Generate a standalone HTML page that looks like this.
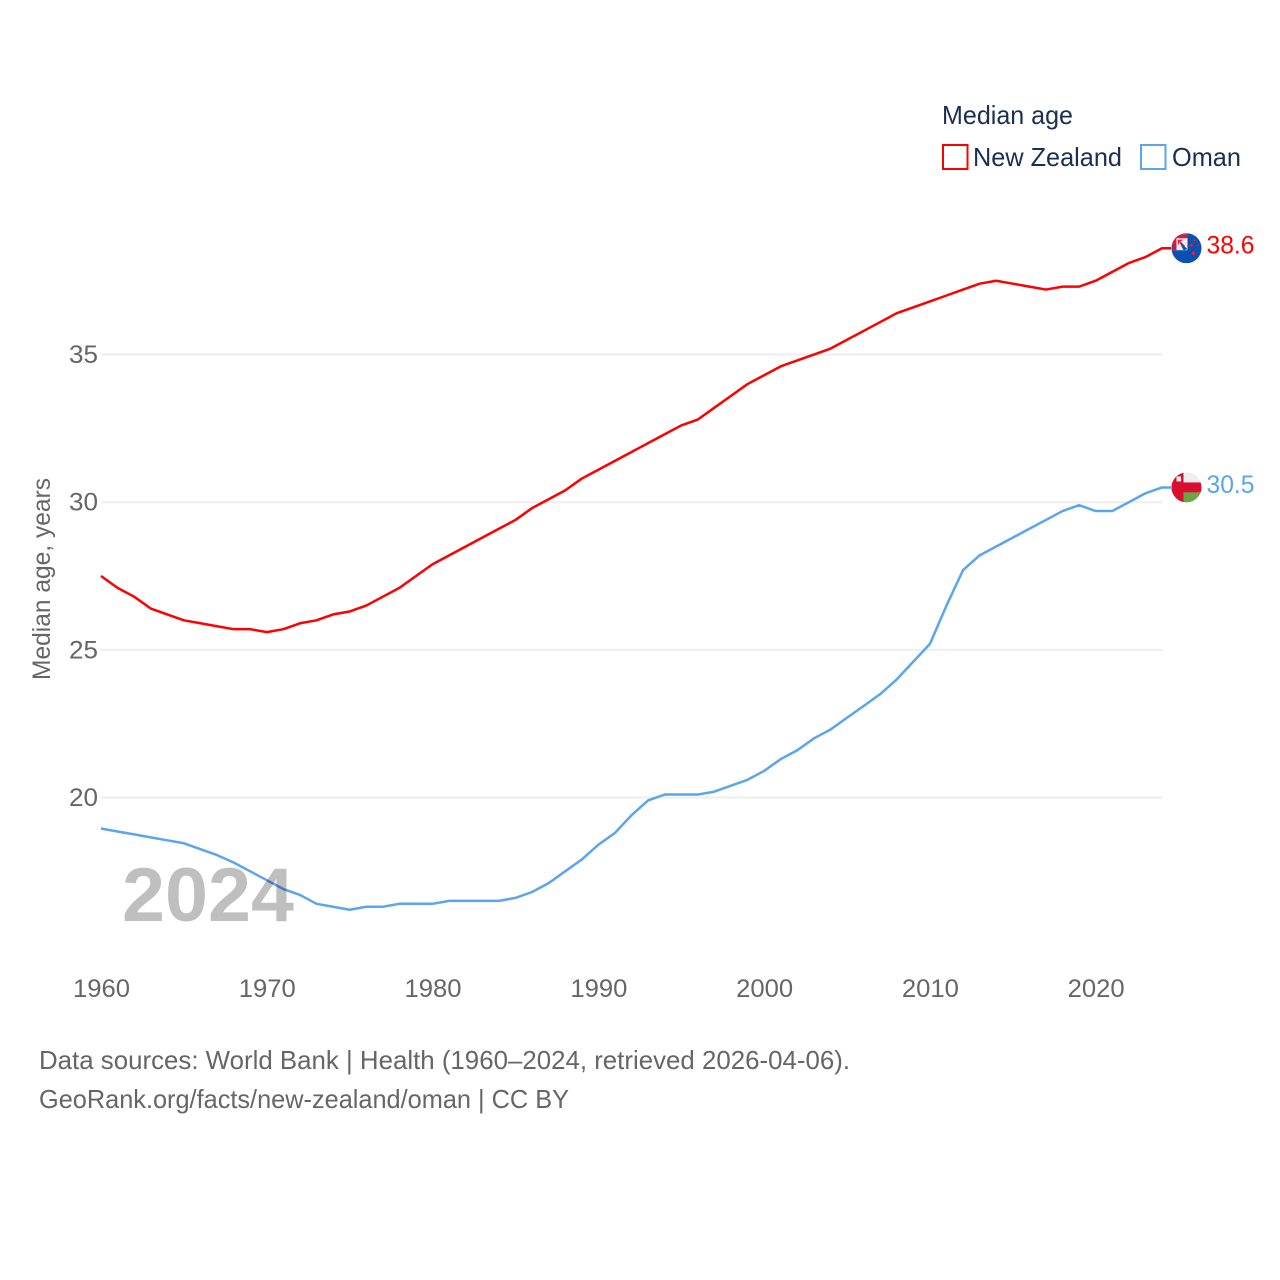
<!DOCTYPE html>
<html lang="en">
<head>
<meta charset="utf-8">
<title>Median age: New Zealand and Oman</title>
<style>
html,body{margin:0;padding:0;background:#fff;width:1280px;height:1280px;overflow:hidden}
svg{display:block;font-family:"Liberation Sans",sans-serif}
</style>
</head>
<body>
<svg id="chart" xmlns="http://www.w3.org/2000/svg" width="1280" height="1280" viewBox="0 0 1280 1280">
  <defs>
    <clipPath id="flag-clip"><circle cx="0" cy="0" r="15"></circle></clipPath>
  </defs>
  <g id="grid"></g>
  <g id="lines"></g>
  <g id="ticks"></g>
  <text transform="translate(50,680) rotate(-90)" font-size="25" fill="#666" textLength="202" lengthAdjust="spacingAndGlyphs">Median age, years</text>
  <text x="122" y="921" font-size="76" font-weight="700" fill="#000" fill-opacity="0.25" textLength="172" lengthAdjust="spacingAndGlyphs">2024</text>

  <g>
    <text x="942" y="124" font-size="26" fill="#1a2f52" textLength="131" lengthAdjust="spacingAndGlyphs">Median age</text>
    <rect x="943" y="145" width="24.5" height="24" fill="none" stroke="#ff0000" stroke-width="2"></rect>
    <text x="973" y="166" font-size="26" fill="#1a2f52" textLength="149" lengthAdjust="spacingAndGlyphs">New Zealand</text>
    <rect x="1141" y="145" width="24.5" height="24" fill="none" stroke="#5ba4ee" stroke-width="2"></rect>
    <text x="1172" y="166" font-size="26" fill="#1a2f52" textLength="69" lengthAdjust="spacingAndGlyphs">Oman</text>
  </g>

  <g id="flag-nz">
    <g clip-path="url(#flag-clip)">
      <rect x="-15" y="-15" width="30" height="30" fill="#0a50b0"></rect>
      <rect x="-14" y="-14" width="15" height="16" fill="#f4f0f0"></rect>
      <rect x="-14" y="-14" width="15" height="4" fill="#d8183c"></rect>
      <rect x="-14" y="-14" width="4" height="16" fill="#d8183c"></rect>
      <path d="M-8,-8 L1,1 L-3,2 Z" fill="#0a50b0"></path>
      <path d="M-8,-4 L-8,-8 L-4,-8 M-8,-8 L-2,-2" stroke="#d8183c" stroke-width="1.2" fill="none"></path>
      <circle cx="4.7" cy="-3" r="1.5" fill="#e0203c"></circle>
      <circle cx="11.7" cy="-3" r="0.9" fill="#e0203c"></circle>
      <circle cx="8" cy="-8" r="1.1" fill="#e0203c"></circle>
      <circle cx="7" cy="5" r="1.7" fill="#e0203c"></circle>
    </g>
  </g>
  <g id="flag-om">
    <g clip-path="url(#flag-clip)">
      <rect x="-15" y="-15" width="30" height="30" fill="#eeeeee"></rect>
      <rect x="-15" y="-15" width="12" height="30" fill="#d80f30"></rect>
      <rect x="-15" y="-5" width="30" height="10" fill="#d80f30"></rect>
      <rect x="-3" y="5" width="18" height="10" fill="#6da544"></rect>
      <rect x="-10" y="-11" width="4.6" height="5" fill="#f0f0f0"></rect>
    </g>
  </g>

  <g>
    <text x="39" y="1069" font-size="26" fill="#666" textLength="811" lengthAdjust="spacingAndGlyphs">Data sources: World Bank | Health (1960–2024, retrieved 2026-04-06).</text>
    <text x="39" y="1108" font-size="26" fill="#666" textLength="530" lengthAdjust="spacingAndGlyphs">GeoRank.org/facts/new-zealand/oman | CC BY</text>
  </g>
</svg>
<script>
const startYear = 1960;
const newZealandValues = [27.5,27.1,26.8,26.4,26.2,26.0,25.9,25.8,25.7,25.7,25.6,25.7,25.9,26.0,26.2,26.3,26.5,26.8,27.1,27.5,27.9,28.2,28.5,28.8,29.1,29.4,29.8,30.1,30.4,30.8,31.1,31.4,31.7,32.0,32.3,32.6,32.8,33.2,33.6,34.0,34.3,34.6,34.8,35.0,35.2,35.5,35.8,36.1,36.4,36.6,36.8,37.0,37.2,37.4,37.5,37.4,37.3,37.2,37.3,37.3,37.5,37.8,38.1,38.3,38.6];
const omanValues = [18.95,18.85,18.75,18.65,18.55,18.45,18.25,18.05,17.8,17.5,17.2,16.9,16.7,16.4,16.3,16.2,16.3,16.3,16.4,16.4,16.4,16.5,16.5,16.5,16.5,16.6,16.8,17.1,17.5,17.9,18.4,18.8,19.4,19.9,20.1,20.1,20.1,20.2,20.4,20.6,20.9,21.3,21.6,22.0,22.3,22.7,23.1,23.5,24.0,24.6,25.2,26.5,27.7,28.2,28.5,28.8,29.1,29.4,29.7,29.9,29.7,29.7,30.0,30.3,30.5];
const xTickLabels = [1960,1970,1980,1990,2000,2010,2020];
const yTickLabels = [20,25,30,35];
const newZealandLabel = "38.6";
const omanLabel = "30.5";

const NS = "http://www.w3.org/2000/svg";
function xScale(year){ return 101 + (year - 1960) * 16.578; }
function yScale(v){ return 797.5 - (v - 20) * 29.53; }

const gridG = document.getElementById("grid");
const ticksG = document.getElementById("ticks");
const linesG = document.getElementById("lines");
const chart = document.getElementById("chart");
const plotRight = xScale(2024);

yTickLabels.forEach(function(t){
  const line = document.createElementNS(NS, "line");
  
  
  line.setAttribute("x1", xScale(1960));
  line.setAttribute("x2", plotRight);
  line.setAttribute("y1", yScale(t));
  line.setAttribute("y2", yScale(t));
  line.setAttribute("stroke", "#eeeeee");
  line.setAttribute("stroke-width", "2");
  gridG.appendChild(line);
  const label = document.createElementNS(NS, "text");
  
  
  label.setAttribute("x", 69);
  label.setAttribute("y", yScale(t) + 8.5);
  label.setAttribute("font-size", "25");
  label.setAttribute("fill", "#666");
  label.setAttribute("textLength", "29");
  label.setAttribute("lengthAdjust", "spacingAndGlyphs");
  label.textContent = t;
  ticksG.appendChild(label);
});

xTickLabels.forEach(function(t){
  const label = document.createElementNS(NS, "text");
  
  
  label.setAttribute("x", xScale(t) + 0.5);
  label.setAttribute("y", 997);
  label.setAttribute("font-size", "25");
  label.setAttribute("fill", "#666");
  label.setAttribute("text-anchor", "middle");
  label.setAttribute("textLength", "57");
  label.setAttribute("lengthAdjust", "spacingAndGlyphs");
  label.textContent = t;
  ticksG.appendChild(label);
});

function linePoints(values){
  const pts = values.map(function(v, i){ return xScale(startYear + i).toFixed(2) + "," + yScale(v).toFixed(2); });
  const last = values[values.length - 1];
  pts.push((plotRight + 9).toFixed(2) + "," + yScale(last).toFixed(2));
  return pts.join(" ");
}

const nzLine = document.createElementNS(NS, "polyline");


nzLine.setAttribute("points", linePoints(newZealandValues));
nzLine.setAttribute("fill", "none");
nzLine.setAttribute("stroke", "#ff0000");
nzLine.setAttribute("stroke-width", "2.5");
nzLine.setAttribute("stroke-linejoin", "round");
linesG.appendChild(nzLine);

const omLine = document.createElementNS(NS, "polyline");


omLine.setAttribute("points", linePoints(omanValues));
omLine.setAttribute("fill", "none");
omLine.setAttribute("stroke", "#5ba4ee");
omLine.setAttribute("stroke-width", "2.5");
omLine.setAttribute("stroke-linejoin", "round");
linesG.appendChild(omLine);

const nzLast = newZealandValues[newZealandValues.length - 1];
const omLast = omanValues[omanValues.length - 1];
document.getElementById("flag-nz").setAttribute("transform", "translate(" + (plotRight + 24.5) + "," + yScale(nzLast) + ")");
document.getElementById("flag-om").setAttribute("transform", "translate(" + (plotRight + 24.5) + "," + yScale(omLast) + ")");

const nzValueLabel = document.createElementNS(NS, "text");


nzValueLabel.setAttribute("x", plotRight + 44.5);
nzValueLabel.setAttribute("y", yScale(nzLast) + 5.5);
nzValueLabel.setAttribute("font-size", "25");
nzValueLabel.setAttribute("fill", "#ff0000");
nzValueLabel.setAttribute("textLength", "48");
nzValueLabel.setAttribute("lengthAdjust", "spacingAndGlyphs");
nzValueLabel.textContent = newZealandLabel;
chart.appendChild(nzValueLabel);

const omValueLabel = document.createElementNS(NS, "text");


omValueLabel.setAttribute("x", plotRight + 44.5);
omValueLabel.setAttribute("y", yScale(omLast) + 5.5);
omValueLabel.setAttribute("font-size", "25");
omValueLabel.setAttribute("fill", "#5ba4ee");
omValueLabel.setAttribute("textLength", "48");
omValueLabel.setAttribute("lengthAdjust", "spacingAndGlyphs");
omValueLabel.textContent = omanLabel;
chart.appendChild(omValueLabel);
</script>
</body>
</html>
